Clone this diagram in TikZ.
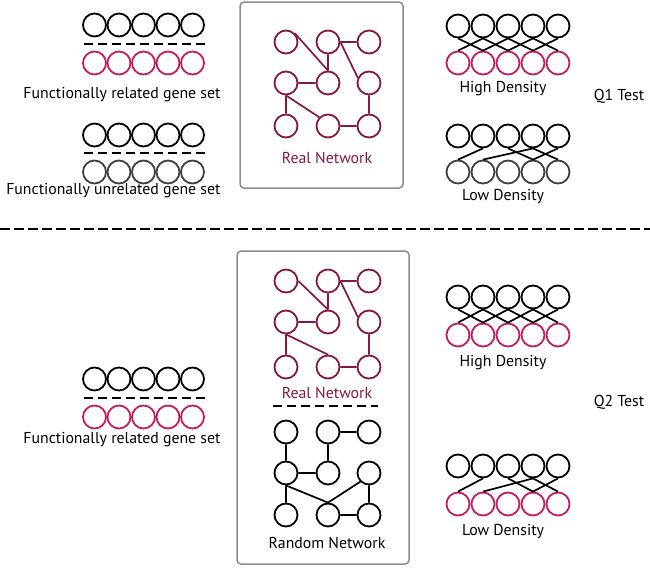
\documentclass[tikz,border=0pt]{standalone}
\usepackage{fontspec}
\setmainfont{PT Sans}
\definecolor{genepink}{RGB}{196,28,96}
\definecolor{netred}{RGB}{132,24,66}
\definecolor{boxgray}{RGB}{140,140,140}
\tikzset{
  gene/.style={circle, draw, line width=1.8pt, minimum size=23pt, inner sep=0pt},
  net/.style={circle, draw=netred, line width=1.8pt, minimum size=23pt, inner sep=0pt},
  netlink/.style={draw=netred, line width=1.7pt},
  link/.style={line width=1.7pt},
  sep/.style={line width=2pt, dash pattern=on 9pt off 5pt},
  panel/.style={draw=boxgray, line width=1.5pt, rounded corners=4pt},
  lbl/.style={font=\fontsize{15.8}{18}\selectfont}
}

\begin{document}
\begin{tikzpicture}[x=1pt, y=-1pt]
\useasboundingbox (0,0) rectangle (650,570);

% left gene sets
\foreach \i in {1,...,5} {
  \node[gene] (ra\i) at (70+24.5*\i,25) {};
  \node[gene, draw=genepink] (rb\i) at (70+24.5*\i,63) {};
  \node[gene] (ua\i) at (70+24.5*\i,135) {};
  \node[gene, draw=black!75] (ub\i) at (70+24.5*\i,172) {};
  \node[gene] (sa\i) at (70+24.5*\i,379) {};
  \node[gene, draw=genepink] (sb\i) at (70+24.5*\i,417) {};
}
\draw[sep] (84,44) -- (205,44);
\draw[sep] (84,153) -- (205,153);
\draw[sep] (84,398) -- (205,398);
\node[lbl, anchor=east] (relA) at (224,95) {Functionally related gene set};
\node[lbl, anchor=east] (unrel) at (224,191) {Functionally unrelated gene set};
\node[lbl, anchor=east] (relB) at (224,440) {Functionally related gene set};

% separator
\draw[line width=2pt, dash pattern=on 10pt off 4pt] (0,229) -- (650,229);

% panels
\draw[panel] (240,2) rectangle (403,188);
\draw[panel] (237,251) rectangle (409,564);

% networks
\foreach \c/\x in {1/286,2/328,3/369} {
  \foreach \r/\y in {1/42,2/83,3/126}
    \node[net] (t\r\c) at (\x,\y) {};
  \foreach \r/\y in {1/281,2/322,3/367}
    \node[net] (b\r\c) at (\x,\y) {};
  \foreach \r/\y in {1/432,2/473,3/515}
    \node[gene] (n\r\c) at (\x,\y) {};
}
\draw[netlink] (t11.north east) -- (t22.north) (t12) -- (t13) (t12) -- (t22)
  (t12.east) -- (t23.155) (t21) -- (t22) (t21) -- (t31)
  (t21.south) -- (t32.north west) (t23) -- (t33) (t32) -- (t33);
\draw[netlink] (b11.east) -- (b22.north) (b12) -- (b13) (b12) -- (b22)
  (b12.east) -- (b23.155) (b21) -- (b22) (b21) -- (b31)
  (b21.south) -- (b32.north) (b23) -- (b33) (b32) -- (b33);
\draw[link] (n11) -- (n21) (n12) -- (n13) (n12) -- (n22) (n21) -- (n22)
  (n21) -- (n31) (n21.south) -- (n32.north) (n23.south west) -- (n32.north)
  (n23) -- (n33) (n32) -- (n33);
\node[lbl, text=netred] (realA) at (327,158) {Real Network};
\node[lbl, text=netred] (realB) at (327,393) {Real Network};
\draw[sep] (273,406) -- (378,406);
\node[lbl] (rand) at (327,543) {Random Network};

% density sets
\foreach \i in {1,...,5} {
  \node[gene] (ha\i) at (433+25*\i,26) {};
  \node[gene, draw=genepink] (hb\i) at (433+25*\i,63) {};
  \node[gene] (la\i) at (433+25*\i,136) {};
  \node[gene, draw=black!75] (lb\i) at (433+25*\i,172) {};
  \node[gene] (qa\i) at (433+25*\i,297) {};
  \node[gene, draw=genepink] (qb\i) at (433+25*\i,335) {};
  \node[gene] (pa\i) at (433+25*\i,466) {};
  \node[gene, draw=genepink] (pb\i) at (433+25*\i,504) {};
}
\foreach \i/\j in {1/2,2/3,3/4,4/5} {
  \draw[link] (ha\i.south) -- (hb\j.north) (ha\j.south) -- (hb\i.north);
  \draw[link] (qa\i.south) -- (qb\j.north) (qa\j.south) -- (qb\i.north);
}
\foreach \i/\j in {2/1,4/2,3/4,5/4,4/5} {
  \draw[link] (la\i.south) -- (lb\j.north);
  \draw[link] (pa\i.south) -- (pb\j.north);
}
\node[lbl] (hiA) at (503,89) {High Density};
\node[lbl] (loA) at (503,197) {Low Density};
\node[lbl] (hiB) at (503,363) {High Density};
\node[lbl] (loB) at (503,532) {Low Density};
\node[lbl] (qone) at (619,96) {Q1 Test};
\node[lbl] (qtwo) at (619,402) {Q2 Test};
\end{tikzpicture}
\end{document}
